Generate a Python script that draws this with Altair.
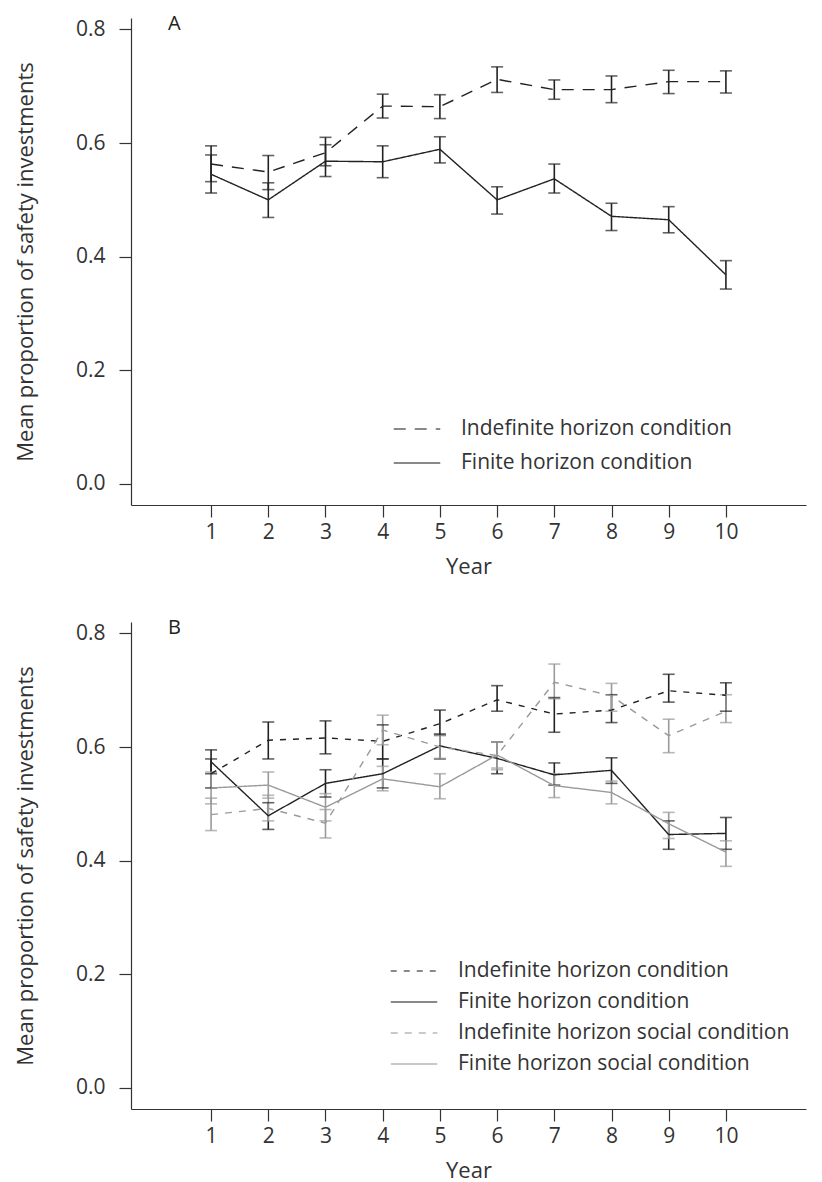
import altair as alt
import pandas as pd

years = list(range(1, 11))

# Panel A
a_conds = ["Indefinite horizon condition", "Finite horizon condition"]
a_indef_mean = [0.563, 0.549, 0.583, 0.665, 0.664, 0.712, 0.694, 0.694, 0.708, 0.708]
a_indef_lo = [0.532, 0.518, 0.560, 0.644, 0.643, 0.689, 0.677, 0.671, 0.687, 0.688]
a_indef_hi = [0.595, 0.578, 0.610, 0.686, 0.685, 0.734, 0.711, 0.718, 0.728, 0.727]
a_fin_mean = [0.545, 0.500, 0.568, 0.567, 0.589, 0.500, 0.537, 0.471, 0.465, 0.368]
a_fin_lo = [0.512, 0.469, 0.541, 0.539, 0.565, 0.475, 0.512, 0.446, 0.442, 0.343]
a_fin_hi = [0.579, 0.530, 0.597, 0.595, 0.611, 0.523, 0.563, 0.494, 0.488, 0.393]

# Panel B
b_conds = ["Indefinite horizon condition", "Finite horizon condition",
           "Indefinite horizon social condition", "Finite horizon social condition"]
b_indef_mean = [0.553, 0.612, 0.616, 0.610, 0.641, 0.683, 0.658, 0.665, 0.699, 0.691]
b_indef_lo = [0.528, 0.579, 0.588, 0.579, 0.621, 0.663, 0.626, 0.643, 0.679, 0.663]
b_indef_hi = [0.579, 0.644, 0.646, 0.639, 0.665, 0.708, 0.687, 0.692, 0.728, 0.713]
b_fin_mean = [0.574, 0.479, 0.536, 0.553, 0.602, 0.580, 0.551, 0.559, 0.446, 0.448]
b_fin_lo = [0.553, 0.455, 0.512, 0.528, 0.579, 0.553, 0.533, 0.536, 0.420, 0.420]
b_fin_hi = [0.595, 0.502, 0.560, 0.579, 0.623, 0.609, 0.572, 0.581, 0.470, 0.476]
b_indefs_mean = [0.481, 0.492, 0.466, 0.630, 0.600, 0.585, 0.714, 0.690, 0.620, 0.663]
b_indefs_lo = [0.453, 0.470, 0.440, 0.604, 0.580, 0.560, 0.685, 0.663, 0.590, 0.643]
b_indefs_hi = [0.510, 0.515, 0.490, 0.656, 0.620, 0.609, 0.746, 0.712, 0.649, 0.692]
b_fins_mean = [0.528, 0.533, 0.494, 0.544, 0.530, 0.586, 0.532, 0.520, 0.465, 0.415]
b_fins_lo = [0.500, 0.510, 0.470, 0.523, 0.509, 0.563, 0.511, 0.500, 0.439, 0.390]
b_fins_hi = [0.556, 0.556, 0.518, 0.566, 0.553, 0.609, 0.553, 0.540, 0.485, 0.435]

y_ticks = [0.0, 0.2, 0.4, 0.6, 0.8]
FONT = "Open Sans"
TXT = "#333333"


def build(conds, means, los, his):
    rows = []
    for c, m, l, h in zip(conds, means, los, his):
        for yr, mv, lv, hv in zip(years, m, l, h):
            rows.append({"year": yr, "mean": mv, "lo": lv, "hi": hv, "cond": c})
    return pd.DataFrame(rows)


dfA = build(a_conds, [a_indef_mean, a_fin_mean], [a_indef_lo, a_fin_lo], [a_indef_hi, a_fin_hi])
dfB = build(b_conds,
            [b_indef_mean, b_fin_mean, b_indefs_mean, b_fins_mean],
            [b_indef_lo, b_fin_lo, b_indefs_lo, b_fins_lo],
            [b_indef_hi, b_fin_hi, b_indefs_hi, b_fins_hi])

W, H = 675, 487


def xenc():
    return alt.X("year:Q",
                 scale=alt.Scale(domain=[-0.4, 11.4], nice=False, zero=False),
                 axis=alt.Axis(values=years, title="Year", grid=False, format="d"))


def yenc(field="mean"):
    return alt.Y(f"{field}:Q",
                 scale=alt.Scale(domain=[-0.037, 0.82], nice=False, zero=False),
                 axis=alt.Axis(values=y_ticks, format=".1f",
                               title="Mean proportion of safety investments", grid=False))


def panel(df, conds, dashes, colors, legx, legy, rowpad, label):
    base = alt.Chart(df)
    color_scale = alt.Scale(domain=conds, range=colors)
    dash_scale = alt.Scale(domain=conds, range=dashes)
    legend = alt.Legend(title=None, orient="none", legendX=legx, legendY=legy,
                        symbolType="M-1.55,0H1.55", symbolSize=900, symbolStrokeWidth=1.4,
                        labelFontSize=21, labelFont=FONT, labelColor=TXT,
                        labelLimit=500, rowPadding=rowpad, labelOffset=28)
    col = alt.Color("cond:N", scale=color_scale, legend=legend, sort=conds)
    line = base.mark_line(strokeWidth=1.4).encode(
        x=xenc(), y=yenc(),
        color=col,
        strokeDash=alt.StrokeDash("cond:N", scale=dash_scale, legend=legend, sort=conds),
        detail="cond:N",
    )
    rule = base.mark_rule(strokeWidth=1.6).encode(
        x=xenc(), y=yenc("lo"), y2="hi:Q", color=col,
    )
    tick_lo = base.mark_tick(orient="horizontal", size=12, thickness=1.6).encode(
        x=xenc(), y=yenc("lo"), color=col,
    )
    tick_hi = base.mark_tick(orient="horizontal", size=12, thickness=1.6).encode(
        x=xenc(), y=yenc("hi"), color=col,
    )
    lab = alt.Chart(pd.DataFrame({"t": [label]})).mark_text(
        font=FONT, fontSize=20, color="#222", align="left", baseline="top"
    ).encode(text="t:N", x=alt.value(37), y=alt.value(-4))
    return alt.layer(rule, tick_lo, tick_hi, line, lab).properties(width=W, height=H)


chartA = panel(dfA, a_conds, [[12, 9], [1, 0]], ["#222222", "#222222"], 270, 395, 8, "A")
chartB = panel(dfB, b_conds, [[6, 7], [1, 0], [7, 7], [1, 0]],
               ["#222222", "#222222", "#9a9a9a", "#9a9a9a"], 267, 333, 5, "B")

chart = alt.vconcat(chartA, chartB, spacing=41).resolve_scale(
    color="independent", strokeDash="independent"
).configure_view(stroke=None).configure_axis(
    labelFont=FONT, titleFont=FONT, labelFontSize=21, titleFontSize=22,
    labelColor=TXT, titleColor=TXT, titleFontWeight="normal",
    domainColor="#333333", tickColor="#333333", tickSize=12, domainWidth=1.2, tickWidth=1.2,
).configure_axisY(titlePadding=38, labelPadding=14).configure_axisX(
    titlePadding=14, labelPadding=4
).properties(
    padding={"left": 6, "top": 6, "right": 5, "bottom": 2}
)

chart.save("out.html", embed_options={"renderer": "svg", "actions": False})
